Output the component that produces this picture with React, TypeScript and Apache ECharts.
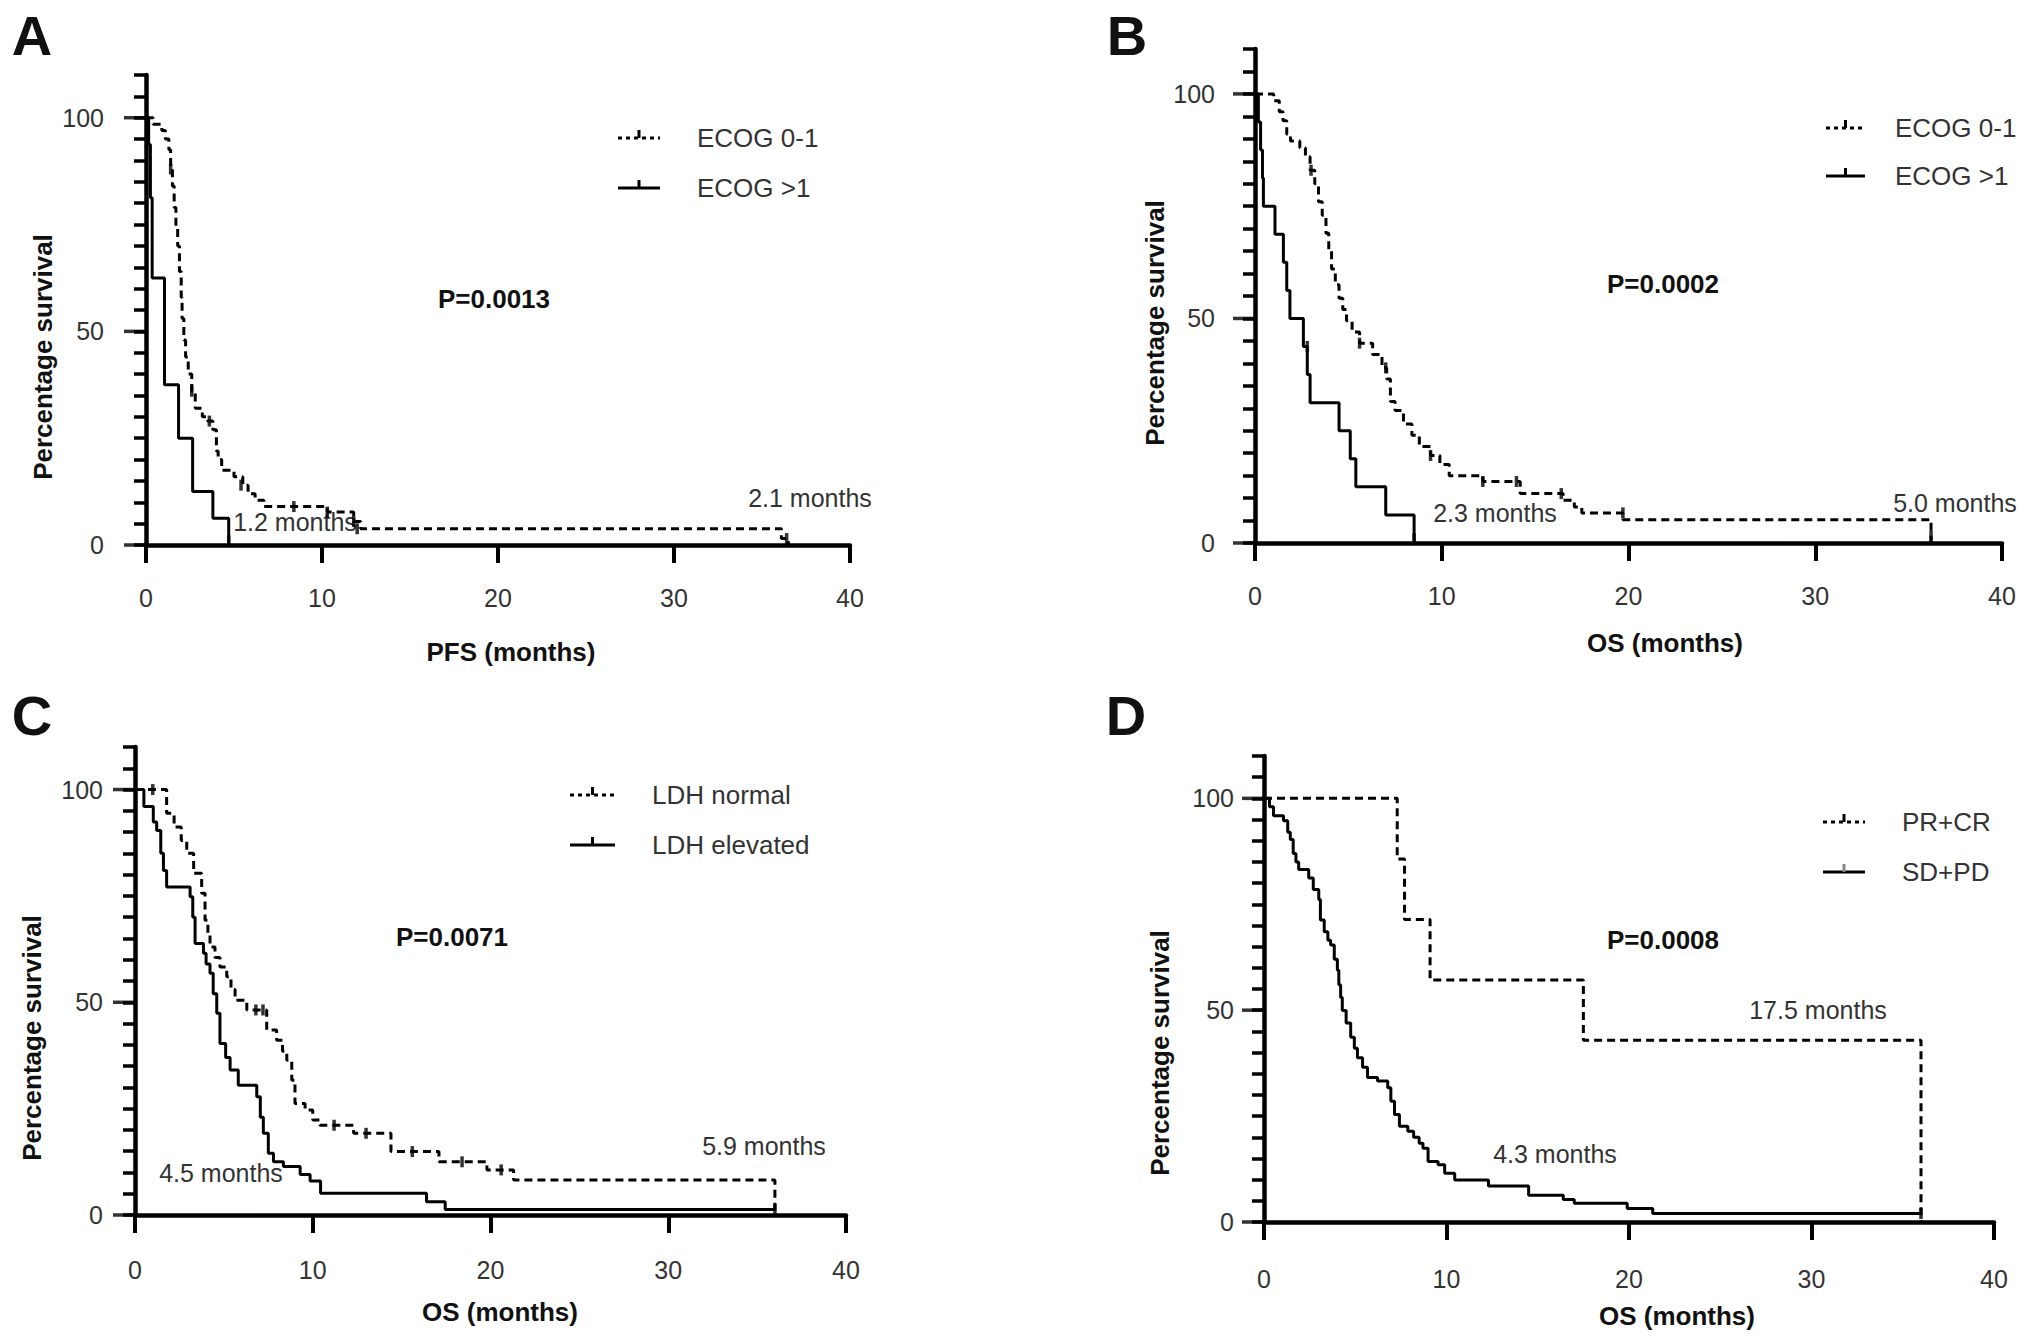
import React, { useEffect, useRef } from 'react';
import * as echarts from 'echarts';

type Pt = [number, number];

// Kaplan-Meier step points: [time (months), survival % after that time]
// A: PFS by ECOG
const pfsEcog01: Pt[] = [
  [0, 100], [0.4, 98.5], [0.9, 97], [1.1, 95], [1.3, 92.5], [1.4, 88], [1.5, 84], [1.6, 79],
  [1.7, 74], [1.8, 70], [1.9, 64], [2.0, 58], [2.05, 53], [2.15, 48], [2.25, 44], [2.4, 40],
  [2.6, 36], [2.8, 32], [3.2, 30], [3.5, 29], [3.8, 27], [4.0, 22], [4.1, 20], [4.3, 17.5],
  [5.0, 16], [5.5, 14], [5.8, 12], [6.2, 10.5], [6.7, 9], [10.3, 7.7], [11.8, 5.5],
  [12.2, 3.8], [36.1, 1.5], [36.5, 0],
];
const pfsEcogHigh: Pt[] = [
  [0, 100], [0.15, 93.75], [0.25, 81.25], [0.35, 62.5], [1.05, 37.5], [1.85, 25],
  [2.65, 12.5], [3.8, 6.25], [4.7, 0],
];
const pfsEcog01Censor: Pt[] = [
  [1.4, 88], [2.6, 36], [3.6, 29], [5.4, 14], [8.4, 9], [10.3, 7.7], [11.8, 5.5], [12.0, 3.8], [36.4, 1.5],
];
const pfsEcogHighCensor: Pt[] = [[4.7, 1]];

// B: OS by ECOG
const osEcog01: Pt[] = [
  [0, 100], [1.0, 98.5], [1.3, 96], [1.5, 94], [1.7, 91], [1.9, 89.5], [2.4, 88], [2.7, 86],
  [2.95, 83], [3.2, 80], [3.4, 76], [3.6, 73], [3.8, 69], [3.95, 65], [4.1, 61], [4.3, 57.5],
  [4.5, 54.5], [4.7, 52], [4.9, 49.5], [5.2, 47], [5.6, 44.5], [6.3, 42], [6.8, 39], [7.05, 36.5],
  [7.25, 31.5], [7.5, 29.5], [7.95, 26.5], [8.4, 24], [8.8, 21.5], [9.4, 19.5], [9.9, 17.5],
  [10.4, 15], [12.2, 13.7], [14.2, 11], [16.5, 9.5], [17.1, 8], [17.5, 6.7], [19.7, 5.2], [36.2, 0],
];
const osEcogHigh: Pt[] = [
  [0, 100], [0.18, 93.75], [0.3, 87.5], [0.4, 81.25], [0.45, 75], [1.07, 68.75], [1.52, 62.5],
  [1.7, 56.25], [1.87, 50], [2.59, 43.75], [2.8, 37.5], [2.95, 31.25], [4.5, 25], [5.1, 18.75],
  [5.4, 12.5], [7.0, 6.25], [8.52, 0],
];
const osEcog01Censor: Pt[] = [
  [3.0, 83], [5.6, 44.5], [7.0, 39], [9.4, 19.5], [12.2, 13.7], [14.0, 13.7], [16.4, 11], [19.7, 6.7], [36.2, 1.5],
];
const osEcogHighCensor: Pt[] = [[2.8, 43.75], [8.52, 1]];

// C: OS by LDH
const osLdhNormal: Pt[] = [
  [0, 100], [1.78, 94.4], [2.2, 91.2], [2.6, 88], [2.91, 85], [3.3, 80.3], [3.75, 75.6],
  [3.94, 69.3], [4.1, 66], [4.22, 63], [4.5, 60.5], [4.78, 58.3], [5.16, 56], [5.4, 53],
  [5.63, 50.5], [6.29, 48.2], [7.41, 43.5], [7.97, 41.1], [8.3, 38.5], [8.54, 36.4],
  [8.82, 31.7], [9.0, 26.2], [9.57, 24.7], [10.0, 22.3], [10.4, 21.1], [12.3, 19.2],
  [14.4, 14.9], [17.1, 12.5], [19.8, 10.6], [21.3, 8.2], [36.0, 0],
];
const osLdhElevated: Pt[] = [
  [0, 100], [0.5, 96], [1.03, 92.4], [1.22, 90.4], [1.45, 85], [1.6, 81], [1.78, 77.1],
  [3.1, 74.8], [3.25, 70], [3.38, 63.8], [3.85, 61.5], [4.0, 59], [4.22, 56.8], [4.4, 52],
  [4.6, 47.4], [4.78, 40.3], [5.1, 37], [5.35, 34.1], [5.81, 30.5], [6.85, 27.8], [7.05, 23],
  [7.22, 19.2], [7.5, 14.5], [7.79, 12.5], [8.35, 11.4], [9.29, 9.5], [9.85, 8], [10.44, 5.1],
  [16.4, 3.1], [17.45, 1.3], [36.0, 1.3],
];
const osLdhNormalCensor: Pt[] = [
  [1.0, 100], [6.8, 48.2], [7.2, 48.2], [11.2, 21.1], [13.0, 19.2], [15.6, 14.9], [18.4, 12.5], [20.6, 10.6],
];
const osLdhElevatedCensor: Pt[] = [[36.0, 1.3]];

// D: OS by response
const osPrCr: Pt[] = [
  [0, 100], [7.3, 85.7], [7.7, 71.4], [9.1, 57.1], [17.5, 42.9], [36.0, 0],
];
const osSdPd: Pt[] = [
  [0, 100], [0.3, 98], [0.52, 95.9], [1.07, 94.7], [1.3, 92], [1.44, 90.3], [1.6, 87], [1.75, 85],
  [1.9, 83.2], [2.45, 81.2], [2.7, 78.5], [3.0, 76.1], [3.09, 71.3], [3.3, 68.5], [3.5, 66.5],
  [3.65, 65.4], [3.85, 62], [4.02, 59.4], [4.1, 56], [4.2, 53], [4.29, 49.9], [4.5, 47],
  [4.75, 43.6], [4.95, 41], [5.12, 38.8], [5.4, 36.5], [5.67, 34.1], [6.22, 33.3], [6.78, 31.7],
  [6.95, 28.5], [7.15, 25.4], [7.42, 22.6], [7.88, 21.4], [8.2, 20], [8.5, 18.6], [8.71, 17.4],
  [8.99, 14.3], [9.54, 13.5], [9.9, 11.5], [10.45, 9.9], [12.3, 8.5], [14.5, 6.3], [16.4, 5.3],
  [17.0, 4.4], [19.9, 3.2], [21.3, 2.0], [36.0, 2.0],
];
const osPrCrCensor: Pt[] = [];
const osSdPdCensor: Pt[] = [[36.0, 2.0]];

const xTicks = [0, 10, 20, 30, 40];
const yLabels = [0, 50, 100];

const FONT = '"Liberation Sans", Arial, Helvetica, sans-serif';
const TEXT = '#333';
const DASH = [8, 5];

const panels = [
  {
    letter: 'A', letterPos: [32, 35],
    grid: { left: 146, top: 75, width: 704, height: 470 }, yMargin: 42, xMargin: 40,
    xTitle: 'PFS (months)', xTitlePos: [511, 652], yTitlePos: [43, 357],
    pValue: 'P=0.0013', pPos: [494, 299],
    names: ['ECOG 0-1', 'ECOG >1'], legendX: [618, 660, 697], legendY: [138, 188],
    dashed: pfsEcog01, solid: pfsEcogHigh, dashedCensor: pfsEcog01Censor, solidCensor: pfsEcogHighCensor,
    notes: [['2.1 months', 810, 498], ['1.2 months', 295, 522]],
  },
  {
    letter: 'B', letterPos: [1127, 35],
    grid: { left: 1255, top: 49, width: 747, height: 494 }, yMargin: 40, xMargin: 40,
    xTitle: 'OS (months)', xTitlePos: [1665, 643], yTitlePos: [1155, 323],
    pValue: 'P=0.0002', pPos: [1663, 284],
    names: ['ECOG 0-1', 'ECOG >1'], legendX: [1826, 1865, 1895], legendY: [128, 176],
    dashed: osEcog01, solid: osEcogHigh, dashedCensor: osEcog01Censor, solidCensor: osEcogHighCensor,
    notes: [['5.0 months', 1955, 503], ['2.3 months', 1495, 513]],
  },
  {
    letter: 'C', letterPos: [32, 715],
    grid: { left: 135, top: 747, width: 711, height: 468 }, yMargin: 32, xMargin: 42,
    xTitle: 'OS (months)', xTitlePos: [500, 1312], yTitlePos: [32, 1038],
    pValue: 'P=0.0071', pPos: [452, 937],
    names: ['LDH normal', 'LDH elevated'], legendX: [570, 615, 652], legendY: [795, 845],
    dashed: osLdhNormal, solid: osLdhElevated, dashedCensor: osLdhNormalCensor, solidCensor: osLdhElevatedCensor,
    notes: [['5.9 months', 764, 1146], ['4.5 months', 221, 1173]],
  },
  {
    letter: 'D', letterPos: [1126, 715],
    grid: { left: 1264, top: 756, width: 730, height: 466 }, yMargin: 30, xMargin: 44,
    xTitle: 'OS (months)', xTitlePos: [1677, 1316], yTitlePos: [1160, 1053],
    pValue: 'P=0.0008', pPos: [1663, 940],
    names: ['PR+CR', 'SD+PD'], legendX: [1823, 1865, 1902], legendY: [822, 872],
    dashed: osPrCr, solid: osSdPd, dashedCensor: osPrCrCensor, solidCensor: osSdPdCensor,
    notes: [['17.5 months', 1818, 1010], ['4.3 months', 1555, 1154]],
  },
];

const text = (t: string, x: number, y: number, size: number, bold: boolean, extra: any = {}) => ({
  type: 'text',
  x,
  y,
  ...extra,
  style: {
    text: t,
    fontSize: size,
    fontWeight: bold ? 'bold' : 'normal',
    fontFamily: FONT,
    fill: bold ? '#111' : TEXT,
    align: 'center',
    verticalAlign: 'middle',
  },
});

const App: React.FC = () => {
  const chartRef = useRef<HTMLDivElement>(null);

  useEffect(() => {
    document.body.style.margin = '0';
    if (!chartRef.current) return;
    const chart = echarts.init(chartRef.current, null, { renderer: 'svg' });

    const grid: any[] = [];
    const xAxis: any[] = [];
    const yAxis: any[] = [];
    const series: any[] = [];
    const graphic: any[] = [];

    panels.forEach((p, i) => {
      grid.push(p.grid);
      xAxis.push({
        gridIndex: i,
        type: 'value',
        min: xTicks[0],
        max: xTicks[xTicks.length - 1],
        interval: 10,
        axisLine: { lineStyle: { color: '#000', width: 4.5 } },
        axisTick: { length: 18, lineStyle: { color: '#000', width: 4 } },
        axisLabel: { margin: p.xMargin, fontSize: 25, color: TEXT, fontFamily: FONT },
        splitLine: { show: false },
      });
      yAxis.push({
        gridIndex: i,
        type: 'value',
        min: 0,
        max: 110,
        interval: 5,
        axisLine: { show: true, lineStyle: { color: '#000', width: 4.5 } },
        axisTick: { show: true, length: 12, lineStyle: { color: '#000', width: 3.5 } },
        axisLabel: {
          margin: p.yMargin,
          fontSize: 25,
          color: TEXT,
          fontFamily: FONT,
          formatter: (v: number) => (yLabels.includes(v) ? String(v) : ''),
        },
        splitLine: { show: false },
      });
      // longer ticks at the labelled values, placed through the axes
      series.push({
        type: 'scatter',
        xAxisIndex: i,
        yAxisIndex: i,
        data: yLabels.map((v) => [0, v]),
        symbol: 'rect',
        symbolSize: [22, 3.5],
        symbolOffset: [-11, 0],
        itemStyle: { color: '#000' },
        clip: false,
        silent: true,
        z: 5,
      });
      series.push({
        type: 'line',
        xAxisIndex: i,
        yAxisIndex: i,
        step: 'end',
        showSymbol: false,
        data: p.dashed,
        lineStyle: { color: '#000', width: 3, type: DASH },
        z: 3,
      });
      series.push({
        type: 'line',
        xAxisIndex: i,
        yAxisIndex: i,
        step: 'end',
        showSymbol: false,
        data: p.solid,
        lineStyle: { color: '#000', width: 3 },
        z: 3,
      });
      [p.dashedCensor, p.solidCensor].forEach((c) => {
        if (!c.length) return;
        series.push({
          type: 'scatter',
          xAxisIndex: i,
          yAxisIndex: i,
          data: c,
          symbol: 'rect',
          symbolSize: [3.5, 11],
          itemStyle: { color: '#000' },
          z: 4,
        });
      });

      graphic.push(text(p.letter, p.letterPos[0], p.letterPos[1], 56, true, {}));
      graphic.push(text(p.xTitle, p.xTitlePos[0], p.xTitlePos[1], 26, true));
      graphic.push(text('Percentage survival', p.yTitlePos[0], p.yTitlePos[1], 26, true, { rotation: Math.PI / 2 }));
      graphic.push(text(p.pValue, p.pPos[0], p.pPos[1], 26, true));
      p.notes.forEach((n: any) => graphic.push(text(n[0], n[1], n[2], 25, false)));

      const [x1, x2, tx] = p.legendX;
      p.names.forEach((name, k) => {
        const ly = p.legendY[k];
        graphic.push({
          type: 'line',
          shape: { x1, y1: ly, x2, y2: ly },
          style: { stroke: '#000', lineWidth: 3, lineDash: k === 0 ? [4, 4] : null },
        });
        graphic.push({
          type: 'rect',
          shape: { x: (x1 + x2) / 2 - 1.5, y: ly - 8, width: 3, height: 8 },
          style: { fill: k === 1 && p.letter === 'D' ? '#888' : '#000' },
        });
        graphic.push({
          type: 'text',
          x: tx,
          y: ly,
          style: {
            text: name,
            fontSize: 26,
            fontFamily: FONT,
            fill: TEXT,
            align: 'left',
            verticalAlign: 'middle',
          },
        });
      });
    });

    chart.setOption({
      animation: false,
      backgroundColor: '#fff',
      grid,
      xAxis,
      yAxis,
      series,
      graphic,
    });
    return () => chart.dispose();
  }, []);

  return <div ref={chartRef} style={{ width: 2031, height: 1341 }} />;
};

export default App;
